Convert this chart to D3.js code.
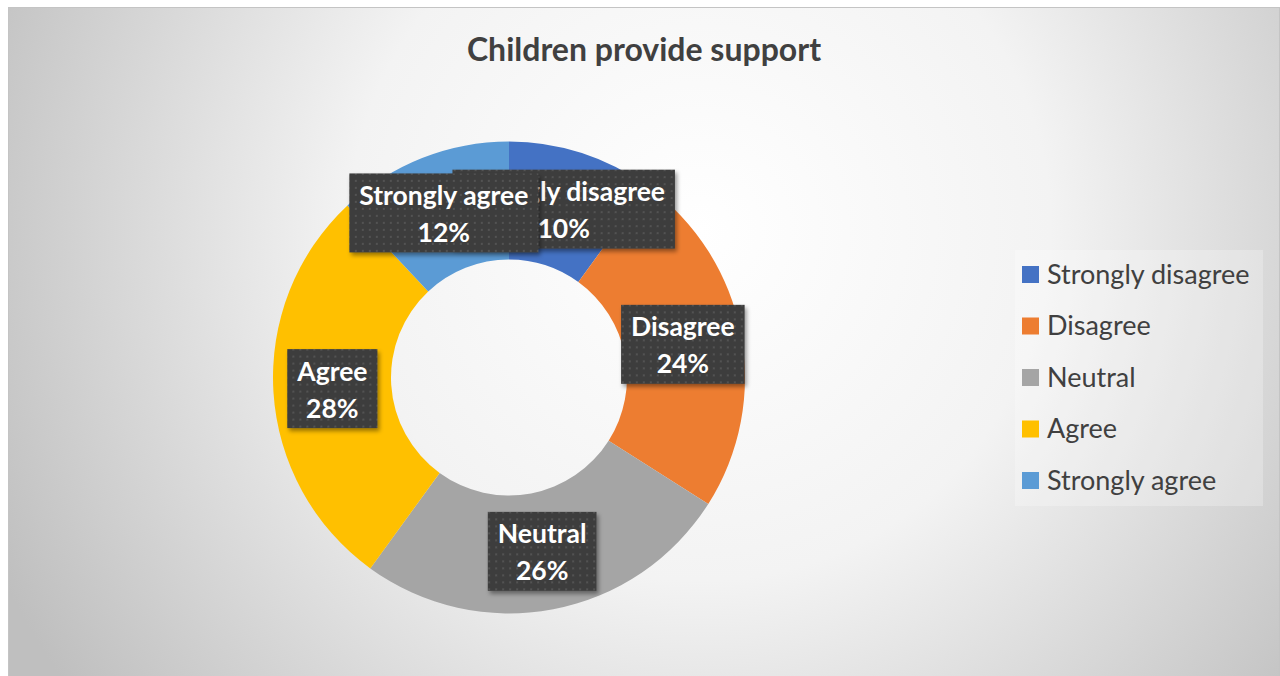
<!DOCTYPE html>
<html>
<head>
<meta charset="utf-8">
<script src="https://cdn.jsdelivr.net/npm/d3@7"></script>
<style>
  html, body { margin: 0; padding: 0; background: #ffffff; }
  svg { display: block; }
</style>
</head>
<body>
<svg id="chart" width="1280" height="676"></svg>
<script>
// Survey responses to "Children provide support"
const categories = ["Strongly disagree", "Disagree", "Neutral", "Agree", "Strongly agree"];
const percentages = [10, 24, 26, 28, 12];
const colors = ["#4472C4", "#ED7D31", "#A5A5A5", "#FFC000", "#5B9BD5"];
const chartTitle = "Children provide support";

const W = 1280, H = 676;
const svg = d3.select("#chart");
const defs = svg.append("defs");

// Chart area background: soft radial gradient from white to light grey
const bg = defs.append("radialGradient")
  .attr("id", "bgGrad")
  .attr("gradientUnits", "userSpaceOnUse")
  .attr("cx", 700).attr("cy", 230).attr("r", 780);
bg.append("stop").attr("offset", 0).attr("stop-color", "#ffffff");
bg.append("stop").attr("offset", 0.45).attr("stop-color", "#f3f3f3");
bg.append("stop").attr("offset", 1).attr("stop-color", "#bfbfbf");

// Dotted texture for the data-label boxes
const pat = defs.append("pattern")
  .attr("id", "dots")
  .attr("patternUnits", "userSpaceOnUse")
  .attr("width", 7).attr("height", 7);
pat.append("rect").attr("width", 7).attr("height", 7).attr("fill", "#3e3e3e");
pat.append("rect").attr("x", 2).attr("y", 2).attr("width", 2).attr("height", 2).attr("fill", "#525252");

// Drop shadow for label boxes
const sh = defs.append("filter").attr("id", "shadow")
  .attr("x", "-20%").attr("y", "-20%").attr("width", "140%").attr("height", "150%");
sh.append("feDropShadow").attr("dx", 2).attr("dy", 3).attr("stdDeviation", 2)
  .attr("flood-color", "#000").attr("flood-opacity", 0.4);

// Chart frame
svg.append("rect")
  .attr("x", 8.5).attr("y", 7.5).attr("width", W - 9).attr("height", H - 7)
  .attr("fill", "url(#bgGrad)")
  .attr("stroke", "#c4c4c4").attr("stroke-width", 1);

// Title
svg.append("text")
  .attr("x", 644).attr("y", 61)
  .attr("text-anchor", "middle")
  .attr("font-family", "Lato, 'Open Sans', sans-serif")
  .attr("font-weight", 700)
  .attr("font-size", 32)
  .attr("fill", "#404040")
  .text(chartTitle);

// Donut
const cx = 509, cy = 377.5;
const outerR = 236, innerR = 118;
const data = categories.map((c, i) => ({ category: c, value: percentages[i], color: colors[i] }));
const pie = d3.pie().sort(null).value(d => d.value);
const arc = d3.arc().innerRadius(innerR).outerRadius(outerR);
const arcs = pie(data);

const g = svg.append("g").attr("transform", `translate(${cx},${cy})`);
g.selectAll("path.slice")
  .data(arcs)
  .join("path")
  .attr("class", "slice")
  .attr("d", arc)
  .attr("fill", d => d.data.color);

// Data labels: category name + percentage in a dark box at each slice's centroid
const labelFont = "Lato, 'Open Sans', sans-serif";
const labelSize = 26.5;
const lineGap = 37;
const boxH = 79;
const padX = 10;

arcs.forEach(d => {
  const [lx, ly] = arc.centroid(d);
  const lg = g.append("g").attr("transform", `translate(${lx},${ly})`);
  const box = lg.append("rect").attr("fill", "url(#dots)").attr("filter", "url(#shadow)");
  const t1 = lg.append("text")
    .attr("text-anchor", "middle")
    .attr("y", -8)
    .attr("font-family", labelFont).attr("font-weight", 700).attr("font-size", labelSize)
    .attr("fill", "#ffffff")
    .text(d.data.category);
  const t2 = lg.append("text")
    .attr("text-anchor", "middle")
    .attr("y", -8 + lineGap)
    .attr("font-family", labelFont).attr("font-weight", 700).attr("font-size", labelSize)
    .attr("fill", "#ffffff")
    .text(d3.format(".0%")(d.data.value / 100));
  const w = Math.max(t1.node().getComputedTextLength(), t2.node().getComputedTextLength()) + padX * 2;
  box.attr("x", -w / 2).attr("y", -boxH / 2).attr("width", w).attr("height", boxH);
});

// Legend
const legendX = 1022, legendY0 = 266, legendStep = 51.5, sw = 17;
svg.append("rect")
  .attr("x", 1015).attr("y", 250).attr("width", 248).attr("height", 256)
  .attr("fill", "#ffffff").attr("fill-opacity", 0.25);
const lg = svg.append("g");
const items = lg.selectAll("g.item")
  .data(data)
  .join("g")
  .attr("class", "item")
  .attr("transform", (d, i) => `translate(${legendX},${legendY0 + i * legendStep})`);
items.append("rect")
  .attr("width", sw).attr("height", sw)
  .attr("fill", d => d.color);
items.append("text")
  .attr("x", 25).attr("y", 17.5)
  .attr("font-family", "Lato, 'Open Sans', sans-serif")
  .attr("font-size", 27)
  .attr("fill", "#404040")
  .text(d => d.category);
</script>
</body>
</html>
